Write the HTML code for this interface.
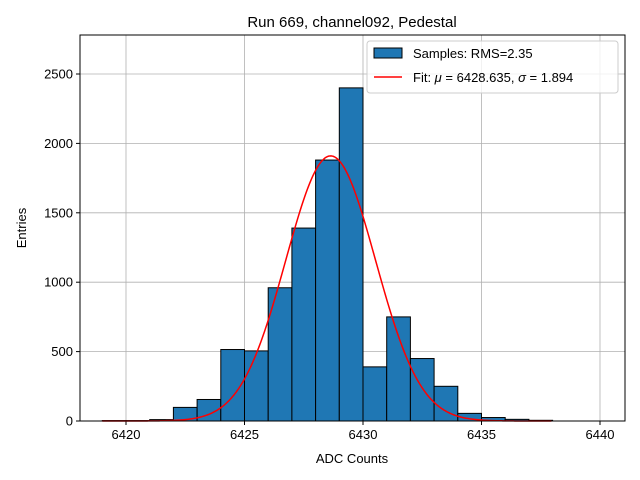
<!DOCTYPE html>
<html><head><meta charset="utf-8"><style>body{margin:0;background:#fff}svg{display:block;font-family:"Liberation Sans","DejaVu Sans",sans-serif}</style></head>
<body>
<svg id="c" width="640" height="480"></svg>
<script>
const binStarts=[6419,6420,6421,6422,6423,6424,6425,6426,6427,6428,6429,6430,6431,6432,6433,6434,6435,6436,6437];
const counts=[3,3,10,98,155,515,505,960,1390,1880,2400,390,750,450,250,55,25,12,5];
const xTicks=[6420,6425,6430,6435,6440];
const yTicks=[0,500,1000,1500,2000,2500];
const fitMu=6428.635, fitSigma=1.894, fitAmp=1910;
const L=80,R=625,T=35,B=421;
const x=v=>126+(v-6420)*23.7;
const y=v=>B-v*0.1388;
const svg=document.getElementById('c');const NS='http://www.w3.org/2000/svg';
function mk(t,a,p){const e=document.createElementNS(NS,t);for(const k in a)e.setAttribute(k,a[k]);(p||svg).appendChild(e);return e;}
xTicks.forEach(t=>{const g=mk('line',{x1:x(t),x2:x(t),y1:T,y2:B,stroke:'#b0b0b0','stroke-width':0.8});


mk('line',{x1:x(t),x2:x(t),y1:B,y2:B+4,stroke:'#000'});
const l=mk('text',{x:x(t),y:B+18,'text-anchor':'middle','font-size':13});l.textContent=t;

});
yTicks.forEach(t=>{const g=mk('line',{x1:L,x2:R,y1:y(t),y2:y(t),stroke:'#b0b0b0','stroke-width':0.8});


mk('line',{x1:L-4,x2:L,y1:y(t),y2:y(t),stroke:'#000'});
const l=mk('text',{x:L-7,y:y(t)+4.5,'text-anchor':'end','font-size':13});l.textContent=t;

});
binStarts.forEach((b,i)=>{const r=mk('rect',{x:x(b),y:y(counts[i]),width:x(b+1)-x(b),height:B-y(counts[i]),fill:'#1f77b4',stroke:'#000','stroke-width':1});

});
let d='';for(let v=6419;v<=6438;v+=0.05){const c=fitAmp*Math.exp(-((v-fitMu)**2)/(2*fitSigma*fitSigma));d+=(d?'L':'M')+x(v).toFixed(2)+','+y(c).toFixed(2);}
const p=mk('path',{d:d,fill:'none',stroke:'red','stroke-width':1.5});


mk('rect',{x:L,y:T,width:R-L,height:B-T,fill:'none',stroke:'#000','stroke-width':1});
</script>
<svg width="640" height="480" style="position:absolute;left:0;top:0">
<g font-family="Liberation Sans, DejaVu Sans, sans-serif">
<text x="352" y="27" text-anchor="middle" font-size="15">Run 669, channel092, Pedestal</text>
<text x="352" y="463" text-anchor="middle" font-size="13">ADC Counts</text>
<text transform="translate(26,228) rotate(-90)" text-anchor="middle" font-size="13">Entries</text>
<g>
<rect x="367" y="41" width="251" height="52" rx="3" fill="#fff" fill-opacity="0.8" stroke="#ccc"/>
<rect x="374" y="48" width="28" height="10" fill="#1f77b4" stroke="#000"/>
<text x="413" y="58" font-size="13">Samples: RMS=2.35</text>
<line x1="374" x2="402" y1="77" y2="77" stroke="red" stroke-width="1.5"/>
<text x="413" y="82" font-size="13">Fit: <tspan font-style="italic">μ</tspan> = 6428.635, <tspan font-style="italic">σ</tspan> = 1.894</text>
</g></g></svg>
</body></html>
